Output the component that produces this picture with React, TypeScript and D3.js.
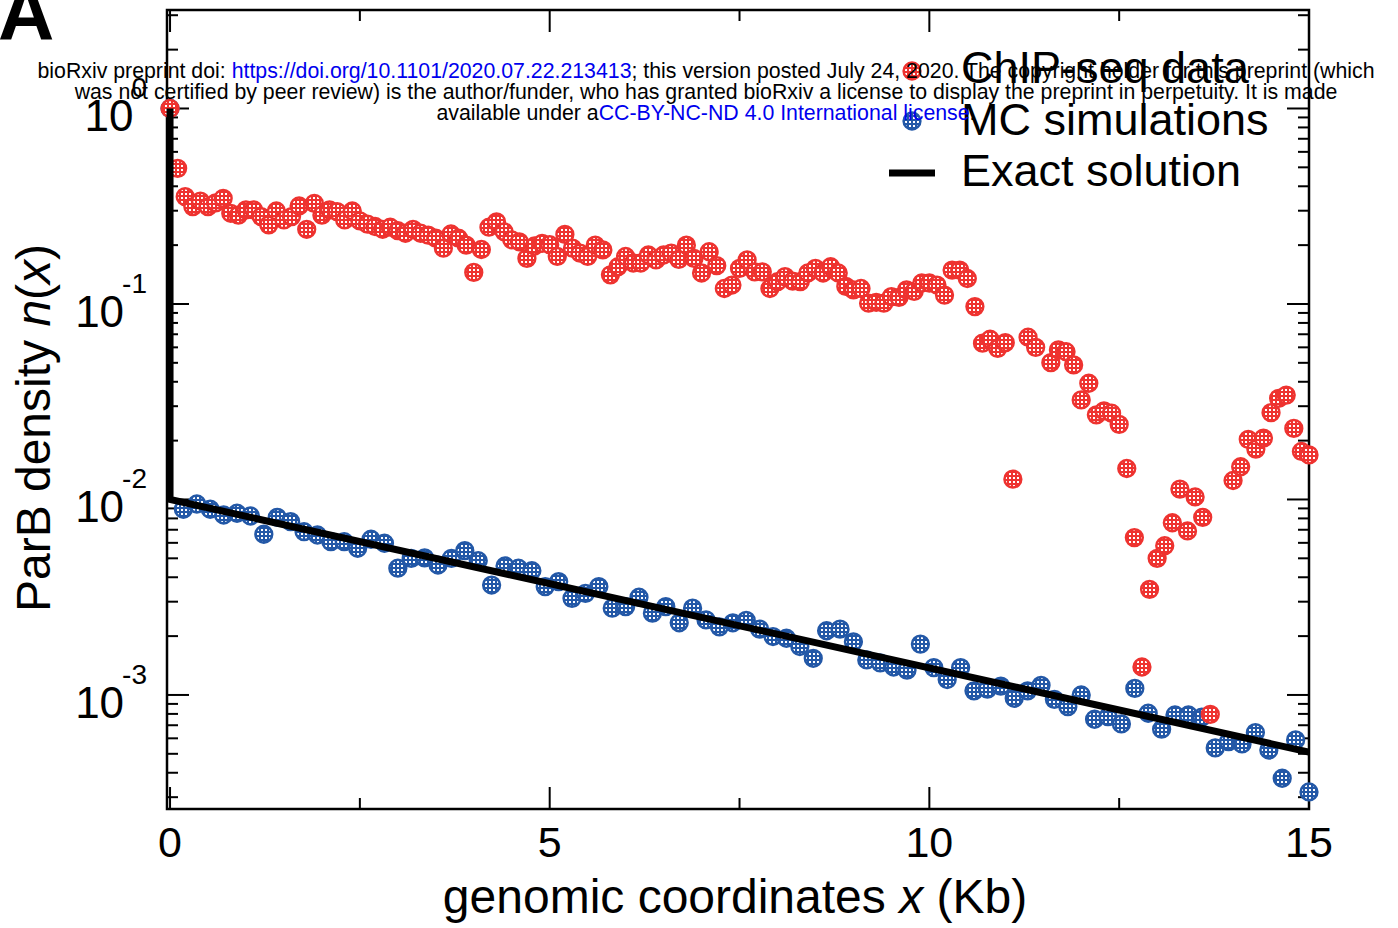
import React from "react";
import * as d3 from "d3";

// ChIP-seq data (red), x in Kb
const chipX = [
  0, 0.1, 0.2, 0.3, 0.4, 0.5, 0.6, 0.7, 0.8, 0.9, 1.0, 1.1, 1.2, 1.3, 1.4, 1.5, 1.6, 1.7, 1.8, 1.9,
  2.0, 2.1, 2.2, 2.3, 2.4, 2.5, 2.6, 2.7, 2.8, 2.9, 3.0, 3.1, 3.2, 3.3, 3.4, 3.5, 3.6, 3.7, 3.8, 3.9,
  4.0, 4.1, 4.2, 4.3, 4.4, 4.5, 4.6, 4.7, 4.8, 4.9, 5.0, 5.1, 5.2, 5.3, 5.4, 5.5, 5.6, 5.7, 5.8, 5.9,
  6.0, 6.1, 6.2, 6.3, 6.4, 6.5, 6.6, 6.7, 6.8, 6.9, 7.0, 7.1, 7.2, 7.3, 7.4, 7.5, 7.6, 7.7, 7.8, 7.9,
  8.0, 8.1, 8.2, 8.3, 8.4, 8.5, 8.6, 8.7, 8.8, 8.9, 9.0, 9.1, 9.2, 9.3, 9.4, 9.5, 9.6, 9.7, 9.8, 9.9,
  10.0, 10.1, 10.2, 10.3, 10.4, 10.5, 10.6, 10.7, 10.8, 10.9, 11.0, 11.1, 11.3, 11.4, 11.6, 11.7, 11.8, 11.9,
  12.0, 12.1, 12.2, 12.3, 12.4, 12.5, 12.6, 12.7, 12.8, 12.9, 13.0, 13.1, 13.2, 13.3, 13.4, 13.5, 13.6, 13.7,
  14.0, 14.1, 14.2, 14.3, 14.4, 14.5, 14.6, 14.7, 14.8, 14.9, 15.0,
];
const chipY = [
  1.0, 0.494, 0.354, 0.315, 0.336, 0.315, 0.329, 0.347, 0.291, 0.285, 0.303, 0.303, 0.28, 0.254, 0.299, 0.269, 0.28, 0.317, 0.241, 0.327,
  0.285, 0.303, 0.297, 0.269, 0.299, 0.266, 0.256, 0.249, 0.241, 0.247, 0.237, 0.23, 0.241, 0.23, 0.225, 0.217, 0.193, 0.228, 0.217, 0.2,
  0.145, 0.19, 0.247, 0.263, 0.234, 0.213, 0.208, 0.171, 0.198, 0.204, 0.201, 0.175, 0.227, 0.193, 0.182, 0.175, 0.2, 0.189, 0.141, 0.155,
  0.175, 0.162, 0.162, 0.178, 0.168, 0.178, 0.182, 0.169, 0.2, 0.171, 0.144, 0.185, 0.157, 0.12, 0.125, 0.152, 0.168, 0.146, 0.146, 0.12,
  0.13, 0.138, 0.131, 0.13, 0.144, 0.152, 0.144, 0.155, 0.144, 0.123, 0.118, 0.12, 0.101, 0.102, 0.101, 0.109, 0.108, 0.118, 0.116, 0.128,
  0.128, 0.125, 0.111, 0.149, 0.149, 0.135, 0.097, 0.063, 0.066, 0.0593, 0.0634, 0.0127, 0.0676, 0.06, 0.0501, 0.0582, 0.057, 0.0488,
  0.0323, 0.0393, 0.0271, 0.0284, 0.0276, 0.0242, 0.0144, 0.00638, 0.00139, 0.00347, 0.005, 0.0058, 0.0076, 0.0113, 0.0069, 0.0103, 0.0081, 0.000796,
  0.0125, 0.0147, 0.0203, 0.0181, 0.0206, 0.0278, 0.0329, 0.0342, 0.0231, 0.0176, 0.0169,
];

// MC simulations (blue)
const mcX = [
  0, 0.176, 0.353, 0.529, 0.706, 0.882, 1.059, 1.235, 1.412, 1.588, 1.765, 1.941, 2.118, 2.294, 2.471, 2.647, 2.824,
  3.0, 3.176, 3.353, 3.529, 3.706, 3.882, 4.059, 4.235, 4.412, 4.588, 4.765, 4.941, 5.118, 5.294, 5.471, 5.647, 5.824,
  6.0, 6.176, 6.353, 6.529, 6.706, 6.882, 7.059, 7.235, 7.412, 7.588, 7.765, 7.941, 8.118, 8.294, 8.471, 8.647, 8.824,
  9.0, 9.176, 9.353, 9.529, 9.706, 9.882, 10.059, 10.235, 10.412, 10.588, 10.765, 10.941, 11.118, 11.294, 11.471, 11.647, 11.824,
  12.0, 12.176, 12.353, 12.529, 12.706, 12.882, 13.059, 13.235, 13.412, 13.588, 13.765, 13.941, 14.118, 14.294, 14.471, 14.647, 14.824,
  15.0,
];
const mcY = [
  1.0, 0.00891, 0.00948, 0.00891, 0.00833, 0.0085, 0.00823, 0.00664, 0.0081, 0.0077, 0.00684, 0.00658, 0.00608, 0.00608, 0.00563, 0.00626, 0.00597,
  0.00445, 0.005, 0.00503, 0.00462, 0.005, 0.00547, 0.00486, 0.00365, 0.00457, 0.00445, 0.00432, 0.00358, 0.0038, 0.00312, 0.00331, 0.00358, 0.00278,
  0.00283, 0.00316, 0.00262, 0.00283, 0.00234, 0.00278, 0.00242, 0.00223, 0.00234, 0.00241, 0.00217, 0.00199, 0.00195, 0.00177, 0.00154, 0.00213, 0.00217,
  0.00187, 0.00151, 0.00146, 0.00139, 0.00134, 0.00182, 0.00138, 0.0012, 0.00138, 0.00105, 0.00107, 0.00111, 0.000962, 0.00105, 0.00112, 0.00095, 0.000871,
  0.001, 0.000751, 0.000774, 0.000711, 0.00108, 0.000806, 0.000668, 0.00079, 0.00079, 0.000769, 0.000536, 0.000577, 0.000562, 0.000642, 0.000523, 0.000375, 0.000589,
  0.000319,
];

// Exact solution
const exactX = [0, 0, 15];
const exactY = [1, 0.01, 0.00051];

const xMajorTicks = [0, 5, 10, 15];
const xMinorTicks = [2.5, 7.5, 12.5];
const yMajorTicks = [1, 0.1, 0.01, 0.001];
const yTickExponents = ["0", "-1", "-2", "-3"];
const legendLabels = ["ChIP-seq data", "MC simulations", "Exact solution"];

const W = 1398;
const H = 928;
const RED = "#ee3330";
const BLUE = "#2358a7";
const LINK = "#0000ee";
const FONT = "'Liberation Sans', Arial, Helvetica, sans-serif";

const left = 167;
const right = 1309;
const top = 10;
const bottom = 809;

export default function App() {
  const x = d3.scaleLinear().domain([-0.04, 15]).range([left, right]);
  const y = d3.scaleLog().domain([2.61e-4, 3.19]).range([bottom, top]);

  // minor log ticks
  const yMinor: number[] = [];
  for (let e = -4; e <= 0; e++) {
    for (let m = 2; m <= 9; m++) {
      const v = m * Math.pow(10, e);
      if (v >= 2.61e-4 && v <= 3.19) yMinor.push(v);
    }
  }

  const line = d3
    .line<number>()
    .x((_, i) => x(exactX[i]))
    .y((d) => y(d));

  const marker = (cx: number, cy: number, color: string, pid: string, key: string) => (
    <circle key={key} cx={cx} cy={cy} r={8.4} fill={`url(#${pid})`} stroke={color} strokeWidth={2.5} />
  );

  const major = 22;
  const minor = 11;

  return (
    <svg
      width={W}
      height={H}
      style={{ position: "absolute", left: 0, top: 0, background: "#fff" }}
      fontFamily={FONT}
    >
      <defs>
        <pattern id="dotR" width="4" height="4" patternUnits="userSpaceOnUse">
          <rect width="4" height="4" fill={RED} />
          <rect x="1" y="1" width="2" height="2" fill="#fff" />
        </pattern>
        <pattern id="dotB" width="4" height="4" patternUnits="userSpaceOnUse">
          <rect width="4" height="4" fill={BLUE} />
          <rect x="1" y="1" width="2" height="2" fill="#fff" />
        </pattern>
      </defs>
      <rect width={W} height={H} fill="#fff" />

      {/* frame */}
      <rect x={left} y={top} width={right - left} height={bottom - top} fill="none" stroke="#000" strokeWidth={2.5} />

      {/* ticks, all pointing inward */}
      <g stroke="#000" strokeWidth={2}>
        {xMajorTicks.map((t) => (
          <g key={`xm${t}`}>
            <line x1={x(t)} x2={x(t)} y1={bottom} y2={bottom - major} />
            <line x1={x(t)} x2={x(t)} y1={top} y2={top + major} />
          </g>
        ))}
        {xMinorTicks.map((t) => (
          <g key={`xn${t}`}>
            <line x1={x(t)} x2={x(t)} y1={bottom} y2={bottom - minor} />
            <line x1={x(t)} x2={x(t)} y1={top} y2={top + minor} />
          </g>
        ))}
        {yMajorTicks.map((t) => (
          <g key={`ym${t}`}>
            <line x1={left} x2={left + major} y1={y(t)} y2={y(t)} />
            <line x1={right} x2={right - major} y1={y(t)} y2={y(t)} />
          </g>
        ))}
        {yMinor.map((t) => (
          <g key={`yn${t}`}>
            <line x1={left} x2={left + minor} y1={y(t)} y2={y(t)} />
            <line x1={right} x2={right - minor} y1={y(t)} y2={y(t)} />
          </g>
        ))}
      </g>

      {/* x tick labels */}
      {xMajorTicks.map((t) => (
        <text key={`xl${t}`} x={x(t)} y={857} fontSize={43} textAnchor="middle" fill="#000">
          {t}
        </text>
      ))}

      {/* y tick labels */}
      {yMajorTicks.map((t, i) => (
        <text key={`yl${t}`} x={147} y={y(t) + 23} fontSize={44} textAnchor="end" fill="#000">
          <tspan>10</tspan>
          <tspan fontSize={28} dx={-2} dy={-34}>
            {yTickExponents[i]}
          </tspan>
        </text>
      ))}

      {/* axis titles */}
      <text x={735} y={913} fontSize={48} textAnchor="middle" fill="#000">
        genomic coordinates <tspan fontStyle="italic">x</tspan> (Kb)
      </text>
      <text transform="translate(50,428) rotate(-90)" fontSize={48} textAnchor="middle" fill="#000">
        ParB density <tspan fontStyle="italic">n</tspan>(<tspan fontStyle="italic">x</tspan>)
      </text>

      {/* data */}
      <g>{mcY.map((v, i) => marker(x(mcX[i]), y(v), BLUE, "dotB", `b${i}`))}</g>
      <g>{chipY.map((v, i) => marker(x(chipX[i]), y(v), RED, "dotR", `r${i}`))}</g>
      <path d={line(exactY) || ""} fill="none" stroke="#000" strokeWidth={7} strokeLinejoin="miter" />

      {/* legend */}
      <g>
        {marker(912, 71, RED, "dotR", "lr")}
        {marker(912, 121, BLUE, "dotB", "lb")}
        <line x1={889} x2={935} y1={173} y2={173} stroke="#000" strokeWidth={7} />
        {legendLabels.map((l, i) => (
          <text key={l} x={961} y={[83, 134.5, 186][i]} fontSize={45} fill="#000">
            {l}
          </text>
        ))}
      </g>

      {/* panel label */}
      <text x={-2} y={40} fontSize={78} fontWeight="bold" fill="#000">
        A
      </text>

      {/* preprint watermark */}
      <g fontSize={21.3} fill="#000" textAnchor="middle">
        <text x={706} y={78}>
          bioRxiv preprint doi: <tspan fill={LINK}>https://doi.org/10.1101/2020.07.22.213413</tspan>; this version posted July 24, 2020. The copyright holder for this preprint (which
        </text>
        <text x={706} y={99}>
          was not certified by peer review) is the author/funder, who has granted bioRxiv a license to display the preprint in perpetuity. It is made
        </text>
        <text x={706} y={120}>
          available under a<tspan fill={LINK}>CC-BY-NC-ND 4.0 International license</tspan>.
        </text>
      </g>
    </svg>
  );
}
